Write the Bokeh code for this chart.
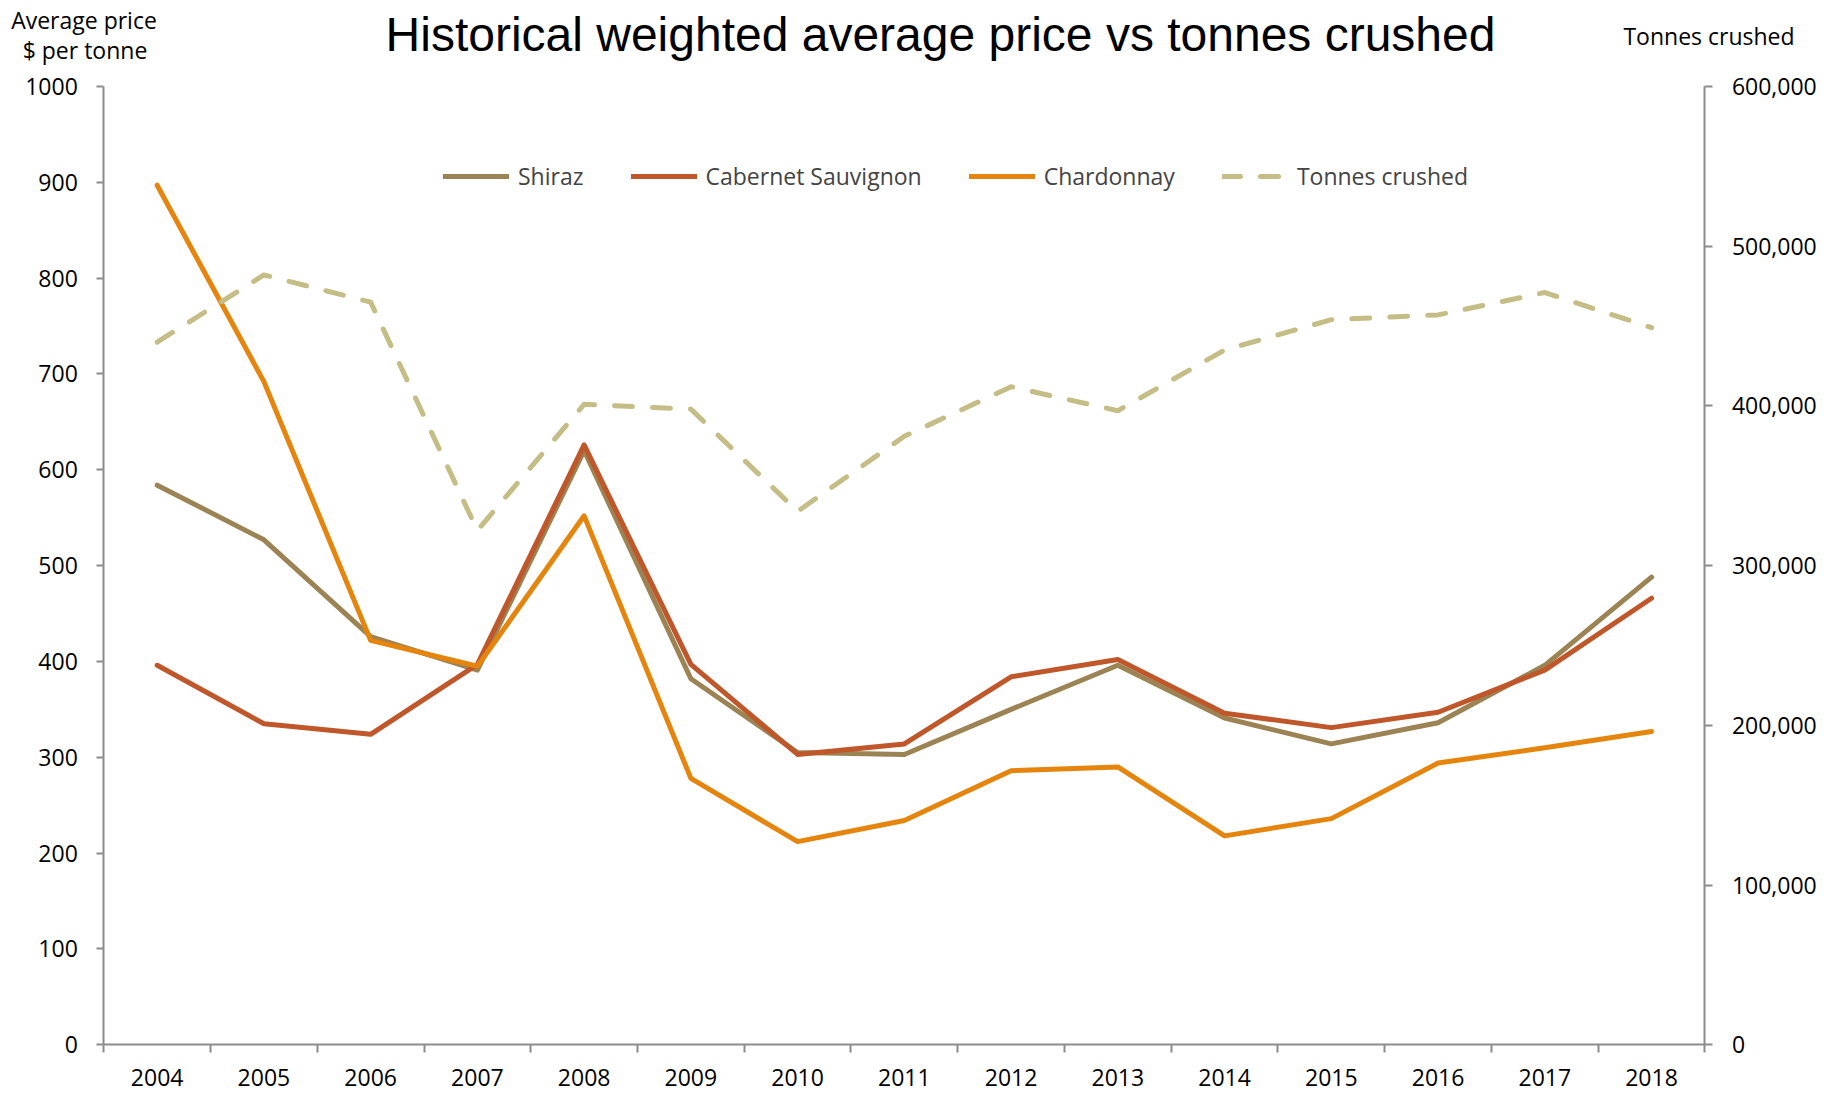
from bokeh.plotting import figure
from bokeh.models import (Range1d, LinearAxis, FixedTicker, NumeralTickFormatter,
                          Legend, LegendItem, Label, ColumnDataSource)
from bokeh.embed import file_html
from bokeh.resources import INLINE

years = ["2004", "2005", "2006", "2007", "2008", "2009", "2010", "2011",
         "2012", "2013", "2014", "2015", "2016", "2017", "2018"]
shiraz = [584, 527, 426, 391, 620, 382, 305, 303, 350, 396, 341, 314, 336, 396, 488]
cabernet = [396, 335, 324, 397, 626, 397, 303, 314, 384, 402, 346, 331, 347, 391, 466]
chardonnay = [897, 692, 422, 395, 552, 278, 212, 234, 286, 290, 218, 236, 294, 310, 327]
tonnes = [440000, 482000, 465000, 322000, 401000, 398000, 334000, 381000,
          412000, 397000, 435000, 454000, 457000, 471000, 449000]

left_ticks = [0, 100, 200, 300, 400, 500, 600, 700, 800, 900, 1000]
right_ticks = [0, 100000, 200000, 300000, 400000, 500000, 600000]

FONT = "Open Sans"
AX = "#8c8c8c"
W, H = 1842, 1095

# pixel geometry of the plotting box (screen pixels from top-left)
AX_L, AX_R, AX_T, AX_B = 103.3, 1704.4, 86.0, 1044.3
n = len(years)
ux = (AX_R - AX_L) / n
x0 = -0.5 - AX_L / ux
x1 = n - 0.5 + (W - AX_R) / ux
uy = (AX_B - AX_T) / left_ticks[-1]
y0 = -(H - AX_B) / uy
y1 = left_ticks[-1] + AX_T / uy
k = right_ticks[-1] / left_ticks[-1]

idx = list(range(n))
src = ColumnDataSource(dict(x=idx, shiraz=shiraz, cabernet=cabernet,
                            chardonnay=chardonnay, tonnes=tonnes))

p = figure(width=W, height=H, output_backend="svg", toolbar_location=None,
           x_range=Range1d(x0, x1), y_range=Range1d(y0, y1),
           x_axis_location=None, y_axis_location=None)
p.min_border = 0
p.min_border_left = 0
p.min_border_right = 0
p.min_border_top = 0
p.min_border_bottom = 0
p.outline_line_color = None
p.xgrid.visible = False
p.ygrid.visible = False
p.background_fill_color = "white"
p.border_fill_color = "white"
p.extra_y_ranges = {"tonnes": Range1d(y0 * k, y1 * k)}

def style_axis(ax):
    ax.axis_line_color = AX
    ax.axis_line_width = 2
    ax.major_tick_line_color = AX
    ax.major_tick_line_width = 2
    ax.minor_tick_line_color = AX
    ax.minor_tick_line_width = 2
    ax.major_label_text_font = FONT
    ax.major_label_text_font_size = "23px"
    ax.major_label_text_color = "#000000"

xaxis = LinearAxis(ticker=FixedTicker(ticks=idx, minor_ticks=[i - 0.5 for i in range(n + 1)]),
                   fixed_location=0, bounds=(-0.5, n - 0.5))
xaxis.major_label_overrides = {i: y for i, y in zip(idx, years)}
style_axis(xaxis)
xaxis.major_tick_out = 0
xaxis.major_tick_in = 0
xaxis.minor_tick_out = 8
xaxis.minor_tick_in = 0
xaxis.major_label_standoff = 16
p.add_layout(xaxis, "below")

yaxis = LinearAxis(ticker=FixedTicker(ticks=left_ticks), fixed_location=-0.5,
                   bounds=(left_ticks[0], left_ticks[-1]))
style_axis(yaxis)
yaxis.major_tick_out = 7
yaxis.major_tick_in = 0
yaxis.minor_tick_out = 0
yaxis.minor_tick_in = 0
yaxis.major_label_standoff = 19
p.add_layout(yaxis, "left")

yaxis2 = LinearAxis(y_range_name="tonnes", ticker=FixedTicker(ticks=right_ticks),
                    formatter=NumeralTickFormatter(format="0,0"),
                    fixed_location=n - 0.5, bounds=(right_ticks[0], right_ticks[-1]))
style_axis(yaxis2)
yaxis2.major_tick_out = 8
yaxis2.major_tick_in = 0
yaxis2.minor_tick_out = 0
yaxis2.minor_tick_in = 0
yaxis2.major_label_standoff = 19
p.add_layout(yaxis2, "right")

r1 = p.line("x", "shiraz", source=src, line_color="#9c8354", line_width=5, line_cap="round", line_join="round")
r2 = p.line("x", "cabernet", source=src, line_color="#c0572a", line_width=5, line_cap="round", line_join="round")
r3 = p.line("x", "chardonnay", source=src, line_color="#e5850e", line_width=5, line_cap="round", line_join="round")
r4 = p.line("x", "tonnes", source=src, y_range_name="tonnes", line_color="#c4bd85", line_width=5,
            line_dash="18 20", line_cap="round", line_join="round")

legend = Legend(items=[LegendItem(label="Shiraz", renderers=[r1]),
                       LegendItem(label="Cabernet Sauvignon", renderers=[r2]),
                       LegendItem(label="Chardonnay", renderers=[r3]),
                       LegendItem(label="Tonnes crushed", renderers=[r4])],
                orientation="horizontal", location=(443, 903),
                border_line_color=None, background_fill_alpha=0,
                label_text_font=FONT, label_text_font_size="23px",
                glyph_width=66, glyph_height=24, label_height=24,
                label_standoff=9, spacing=47, padding=0, margin=0)
p.add_layout(legend)

title = Label(x=940, y=H - 34, x_units="screen", y_units="screen",
              text="Historical weighted average price vs tonnes crushed",
              text_font="Liberation Sans", text_font_size="48px",
              text_align="center", text_baseline="alphabetic", text_color="#000000")
p.add_layout(title)

l1 = Label(x=83.5, y=H - 19, x_units="screen", y_units="screen", text="Average price",
           text_font=FONT, text_font_size="23px", text_align="center",
           text_baseline="alphabetic", text_color="#000000")
l2 = Label(x=84.5, y=H - 49, x_units="screen", y_units="screen", text="$ per tonne",
           text_font=FONT, text_font_size="23px", text_align="center",
           text_baseline="alphabetic", text_color="#000000")
l3 = Label(x=1708.5, y=H - 35, x_units="screen", y_units="screen", text="Tonnes crushed",
           text_font=FONT, text_font_size="23px", text_align="center",
           text_baseline="alphabetic", text_color="#000000")
for l in (l1, l2, l3):
    p.add_layout(l)

open("out.html", "w").write(file_html(p, INLINE))
